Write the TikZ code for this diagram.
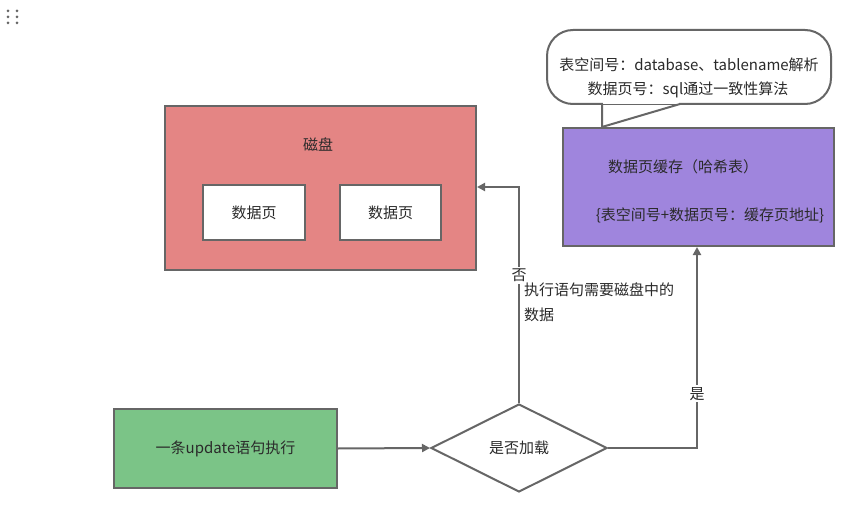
\documentclass[tikz,border=0pt]{standalone}
\usepackage{fontspec}
\setmainfont{Noto Sans CJK SC}
\usetikzlibrary{arrows.meta,shapes.geometric}
\definecolor{edge}{HTML}{666666}
\definecolor{txt}{HTML}{2A2A2A}
\definecolor{diskred}{HTML}{E48584}
\definecolor{cachepurple}{HTML}{9F85DD}
\definecolor{stepgreen}{HTML}{7BC487}
\begin{document}
\begin{tikzpicture}[x=1pt,y=-1pt,
  box/.style={draw=edge,line width=2pt,inner sep=0pt,text=txt,font=\fontsize{15}{17}\selectfont},
  lbl/.style={text=txt,font=\fontsize{15}{17}\selectfont,inner sep=1pt},
  conn/.style={draw=edge,line width=2pt,-{Triangle[length=8pt,width=8pt]}},
  plain/.style={draw=edge,line width=2pt}]
\useasboundingbox (0,0) rectangle (852,516);
\fill[white] (0,0) rectangle (852,516);
% grip dots
\foreach \dx in {8,17}\foreach \dy in {11,17,23}{\fill[edge] (\dx,\dy) circle (1.5pt);}
% disk
\node[box,fill=diskred,minimum width=311pt,minimum height=164pt] (disk) at (320.5,188) {};
\node[lbl] (disklbl) at (318,145) {磁盘};
\node[box,fill=white,minimum width=102pt,minimum height=55pt] (p1) at (254,212.5) {数据页};
\node[box,fill=white,minimum width=101pt,minimum height=55pt] (p2) at (390.5,212.5) {数据页};
% cache
\node[box,fill=cachepurple,minimum width=271pt,minimum height=118pt] (cache) at (698.5,187) {};
\node[lbl] (cachet) at (683,167) {数据页缓存（哈希表）};
\node[lbl] (cached) at (710,215) {\{表空间号+数据页号：缓存页地址\}};
% callout
\coordinate (tailA) at (602,104);
\coordinate (tailB) at (602,127);
\coordinate (tailC) at (680,104);
\draw[plain,fill=white,rounded corners=26pt] (547,30) rectangle (831,104);
\fill[white] (603,100) -- (603,104) -- (679,104) -- (679,100) -- cycle;
\draw[plain,line join=miter] (tailA) -- (tailB) -- (tailC);
\node[lbl] (call1) at (689,65) {表空间号：database、tablename解析};
\node[lbl] (call2) at (688,90) {数据页号：sql通过一致性算法};
% start
\node[box,fill=stepgreen,minimum width=223pt,minimum height=79pt] (start) at (225.5,448.5) {一条update语句执行};
% decision
\node[draw=edge,line width=2pt,diamond,fill=white,minimum width=176pt,minimum height=88pt,inner sep=0pt,text=txt,font=\fontsize{15}{17}\selectfont,aspect=2] (dec) at (519,448) {是否加载};
% connectors
\draw[conn] (start.east) -- (dec.west);
\coordinate (noturn) at (519,187);
\draw[conn] (dec.north) -- node[lbl,fill=white,pos=0.59,inner sep=2pt] (no) {否} (noturn) -- (disk.east |- noturn);
\coordinate (yesturn) at (697,448);
\draw[conn] (dec.east) -- (yesturn) -- node[lbl,fill=white,pos=0.27,inner sep=2pt] (yes) {是} (yesturn |- cache.south);
\node[lbl,anchor=west,align=left] (why1) at (523,290) {执行语句需要磁盘中的};
\node[lbl,anchor=west,align=left] (why2) at (523,315) {数据};
\end{tikzpicture}
\end{document}
